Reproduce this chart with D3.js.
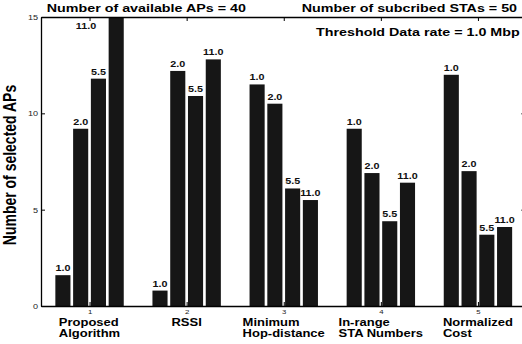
<!DOCTYPE html>
<html>
<head>
<meta charset="utf-8">
<script src="https://cdn.jsdelivr.net/npm/d3@7"></script>
<style>
  html, body { margin: 0; padding: 0; background: #fff; overflow: hidden; }
  svg { display: block; font-family: "Liberation Sans", Arial, Helvetica, sans-serif; }
</style>
</head>
<body>
<svg id="chart" width="522" height="344"></svg>
<script>
// ---- data ----
const methodIds = [1, 2, 3, 4, 5];
const methodLines = [
  ["Proposed", "Algorithm"],
  ["RSSI"],
  ["Minimum", "Hop-distance"],
  ["In-range", "STA Numbers"],
  ["Normalized", "Cost"]
];
const dataRates = ["1.0", "2.0", "5.5", "11.0"];
const rate1 = [1.6, 0.8, 11.5, 9.2, 12.0];
const rate2 = [9.2, 12.2, 10.5, 6.9, 7.0];
const rate55 = [11.8, 10.9, 6.1, 4.4, 3.7];
const rate11 = [16.5, 12.8, 5.5, 6.4, 4.1];
const yTicks = [0, 5, 10, 15];
const titleLeft = "Number of available APs = 40";
const titleRight = "Number of subcribed STAs = 50";
const subtitle = "Threshold Data rate = 1.0 Mbp";
const yLabel = "Number of selected APs";

const seriesValues = [rate1, rate2, rate55, rate11];

// ---- layout ----
const SX = 1.3; // horizontal stretch of the original picture
const svg = d3.select("#chart");
const pLeft = 41, pRight = 526.5, pTop = 17, pBottom = 306;

const x = d3.scaleLinear().domain([0.5, 5.5]).range([pLeft, pRight]);
const y = d3.scaleLinear().domain([0, 15]).range([pBottom, pTop]);
const inner = d3.scaleBand().domain(dataRates).range([-34.2, 34.2]).paddingInner(0.15).paddingOuter(0);

svg.append("defs").append("clipPath").attr("id", "plotclip")
  .append("rect").attr("x", pLeft).attr("y", pTop).attr("width", pRight - pLeft).attr("height", pBottom - pTop);

// bars
const rows = [];
methodIds.forEach((m, i) => {
  dataRates.forEach((r, j) => rows.push({ m, r, v: seriesValues[j][i] }));
});

const yMax = y.domain()[1];
const barG = svg.append("g").attr("clip-path", "url(#plotclip)");
barG.selectAll("rect").data(rows).join("rect")
  .attr("x", d => x(d.m) + inner(d.r))
  .attr("width", inner.bandwidth())
  .attr("y", d => y(Math.min(d.v, yMax + 0.5)))
  .attr("height", d => y(0) - y(Math.min(d.v, yMax + 0.5)))
  .attr("fill", "#161616");

// value labels
svg.append("g").selectAll("text").data(rows).join("text")
  .attr("transform", d => {
    if (d.v > yMax) {
      return `translate(${x(d.m) + inner(d.r) - 12.5},${y(yMax) + 11.5}) scale(${SX},1)`;
    }
    return `translate(${x(d.m) + inner(d.r) + inner.bandwidth() / 2},${y(d.v) - 4}) scale(${SX},1)`;
  })
  .attr("text-anchor", d => d.v > yMax ? "end" : "middle")
  .attr("font-size", 8.3)
  .attr("font-weight", "bold")
  .attr("fill", "#111")
  .text(d => d.r);

// axes
function styleAxis(g) {
  g.select(".domain").attr("stroke", "#000").attr("stroke-width", 1.3);
  g.selectAll(".tick line").attr("stroke", "#000").attr("stroke-width", 1);
}

const axLeft = svg.append("g").attr("transform", `translate(${pLeft},0)`)
  .call(d3.axisLeft(y).tickValues(yTicks).tickSize(-4).tickSizeOuter(0).tickPadding(3));
styleAxis(axLeft);
axLeft.selectAll(".tick text")
  .attr("x", 0).attr("dy", null)
  .attr("transform", `translate(-3,2.5) scale(${SX},1)`)
  .attr("font-size", 7).attr("fill", "#222")
  .style("font-family", "Liberation Sans, Arial, sans-serif");

const axRight = svg.append("g").attr("transform", `translate(${pRight},0)`)
  .call(d3.axisRight(y).tickValues(yTicks).tickSize(-5.5).tickSizeOuter(0).tickFormat(""));
styleAxis(axRight);
axRight.select(".domain").remove();
axRight.selectAll(".tick line").attr("stroke", "#555");

const axTop = svg.append("g").attr("transform", `translate(0,${pTop})`)
  .call(d3.axisTop(x).tickValues(methodIds).tickSize(-4).tickSizeOuter(0).tickFormat(""));
styleAxis(axTop);

const axBottom = svg.append("g").attr("transform", `translate(0,${pBottom})`)
  .call(d3.axisBottom(x).tickValues(methodIds).tickSize(-4).tickSizeOuter(0).tickFormat(d3.format("d")));
styleAxis(axBottom);
axBottom.selectAll(".tick text")
  .attr("y", 0).attr("dy", null)
  .attr("transform", `translate(0,8) scale(${SX},1)`)
  .attr("font-size", 6).attr("fill", "#222")
  .style("font-family", "Liberation Sans, Arial, sans-serif");

// category labels (block centered on tick, lines left-aligned)
const catG = svg.append("g");
methodIds.forEach((m, i) => {
  const lines = methodLines[i];
  const g = catG.append("g");
  const texts = g.selectAll("text").data(lines).join("text")
    .attr("font-size", 10).attr("font-weight", "bold").attr("fill", "#000")
    .attr("y", (d, k) => k * 11.4)
    .text(d => d);
  let maxW = 0;
  texts.each(function () { maxW = Math.max(maxW, this.getComputedTextLength()); });
  g.attr("transform", `translate(${x(m) - maxW * SX / 2},${pBottom + 19.5}) scale(${SX},1)`);
});

// titles
svg.append("text").attr("transform", `translate(46.7,12) scale(${SX},1)`)
  .attr("font-size", 11).attr("font-weight", "bold").text(titleLeft);
svg.append("text").attr("transform", `translate(301.7,12) scale(${SX},1)`)
  .attr("font-size", 11).attr("font-weight", "bold").text(titleRight);
svg.append("text").attr("transform", `translate(316,36) scale(${SX},1)`)
  .attr("font-size", 11).attr("font-weight", "bold").text(subtitle);

// y label
svg.append("text")
  .attr("transform", `translate(16,165) scale(${SX},1) rotate(-90)`)
  .attr("text-anchor", "middle")
  .attr("font-size", 14)
  .attr("font-weight", "bold")
  .attr("fill", "#000")
  .text(yLabel);
</script>
</body>
</html>
